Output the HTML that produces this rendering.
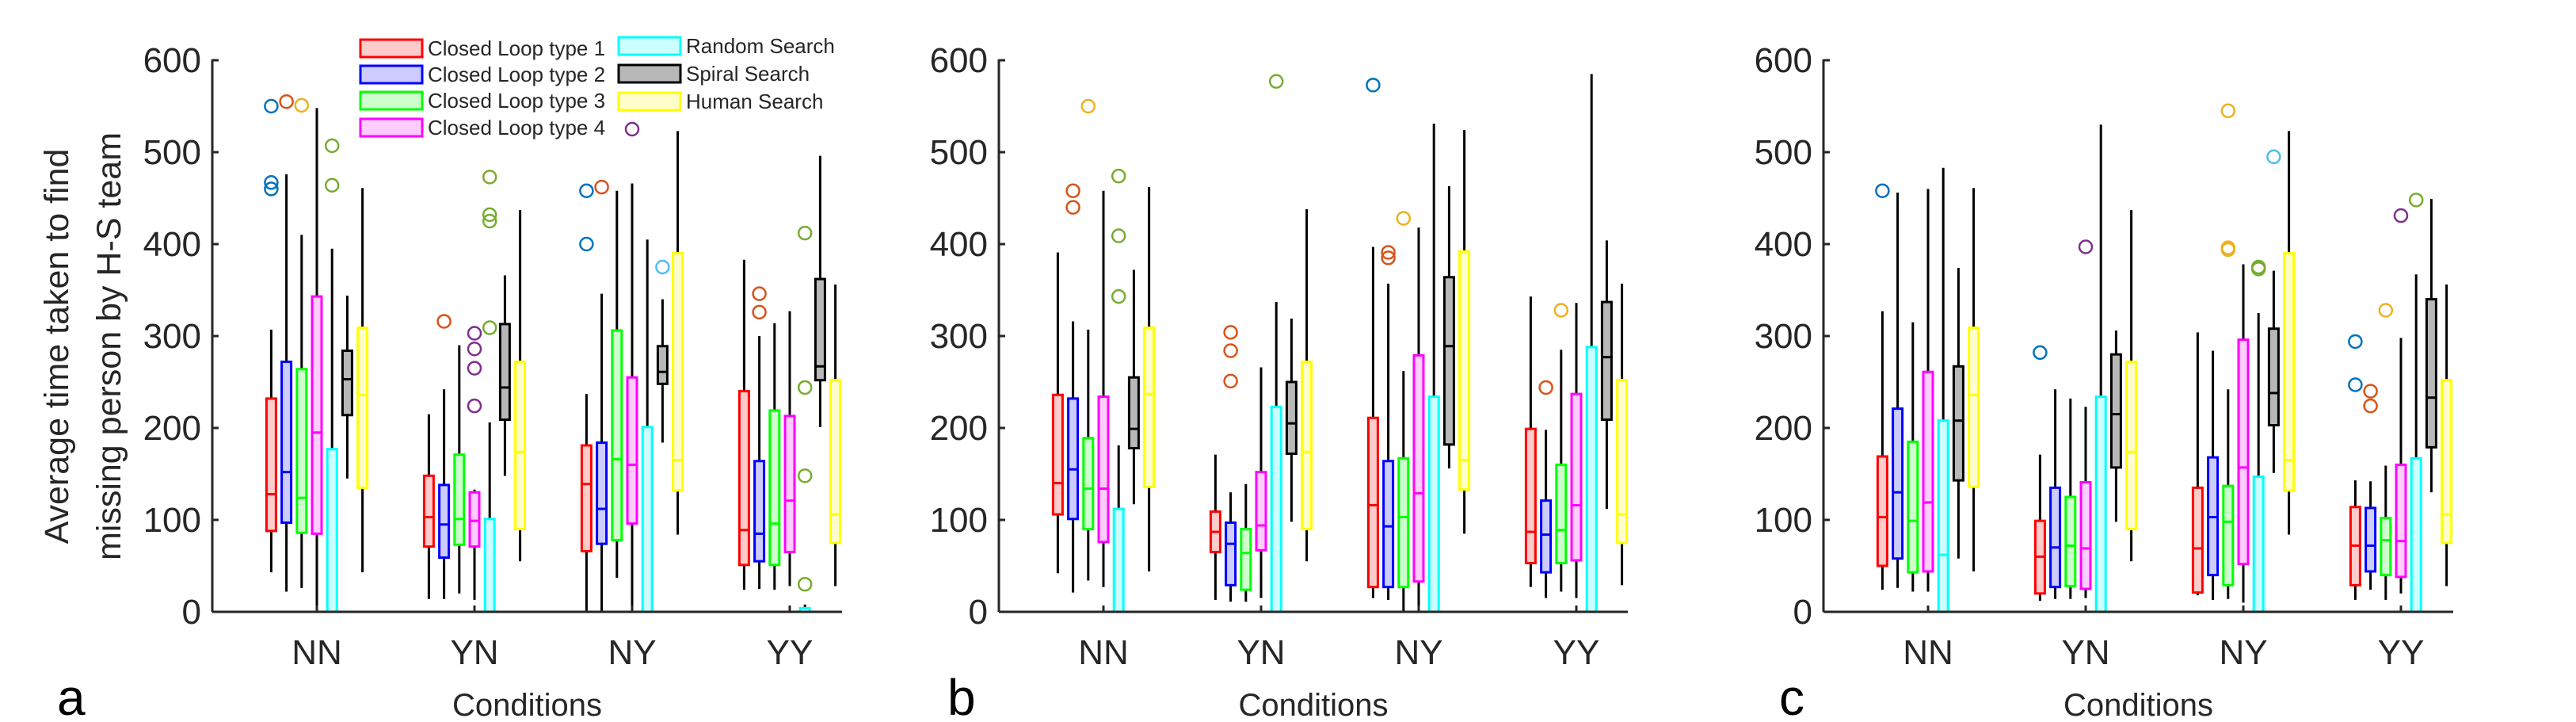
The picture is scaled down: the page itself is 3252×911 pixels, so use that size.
<!DOCTYPE html>
<html><head><meta charset="utf-8"><style>
html,body{margin:0;padding:0;background:#fff;}
svg{display:block;font-family:"Liberation Sans",Arial,sans-serif;}
</style></head><body>
<svg id="chart" width="3252" height="911" viewBox="0 0 3252 911" xmlns="http://www.w3.org/2000/svg">
<rect x="0" y="0" width="3252" height="911" fill="#fff"/>
<g id="root"></g>
</svg>
<script>
const categories = ["NN","YN","NY","YY"];
const seriesNames = ["Closed Loop type 1","Closed Loop type 2","Closed Loop type 3","Closed Loop type 4","Random Search","Spiral Search","Human Search"];
const yTicks = [0,100,200,300,400,500,600];
// Panel a: [group][series]
const aLow = [[43,22,26,0,0,145,43],[14,14,20,13,0,148,55],[0,0,37,0,0,184,84],[24,25,24,28,0,201,28]];
const aQ1  = [[88,97,86,85,0,214,135],[71,59,73,71,0,209,90],[66,74,78,96,0,248,132],[51,55,51,65,0,252,75]];
const aMed = [[128,152,124,195,0,253,236],[103,95,101,99,0,244,174],[139,112,166,160,0,261,165],[89,85,96,121,0,267,106]];
const aQ3  = [[232,272,264,343,177,284,309],[148,138,171,130,101,313,272],[181,184,306,255,201,289,390],[240,164,219,213,4,362,252]];
const aHigh= [[307,476,410,548,395,344,461],[215,242,290,133,206,366,437],[237,346,458,466,405,340,523],[383,300,314,327,8,496,356]];
const aOut = [[0,0,550],[0,0,467],[0,0,460],[0,1,555],[0,2,551],[0,4,507],[0,4,464],
  [1,1,316],[1,3,303],[1,3,286],[1,3,265],[1,3,224],[1,4,473],[1,4,432],[1,4,425],[1,4,309],
  [2,0,458],[2,0,400],[2,1,462],[2,3,525],[2,5,375],
  [3,1,346],[3,1,326],[3,4,412],[3,4,244],[3,4,148],[3,4,30]];
// Panel b
const bLow = [[42,21,34,27,0,117,44],[13,11,11,15,0,98,55],[15,13,0,0,0,156,85],[27,15,22,15,0,112,29]];
const bQ1  = [[106,101,90,76,0,178,136],[65,29,24,67,0,172,90],[27,27,27,33,0,182,133],[53,43,53,56,0,209,75]];
const bMed = [[140,155,134,134,0,199,237],[87,74,64,94,0,205,174],[116,93,103,129,0,289,165],[87,84,89,116,0,277,106]];
const bQ3  = [[236,232,189,234,112,255,309],[109,97,90,152,223,250,272],[211,164,167,279,234,364,392],[199,121,160,237,288,337,252]];
const bHigh= [[391,316,307,458,181,372,462],[171,130,139,266,337,319,438],[397,357,262,418,531,463,524],[343,198,285,336,585,404,357]];
const bOut = [[0,1,458],[0,1,440],[0,2,550],[0,4,474],[0,4,409],[0,4,343],
  [1,1,304],[1,1,284],[1,1,251],[1,4,577],
  [2,0,573],[2,1,391],[2,1,385],[2,2,428],
  [3,1,244],[3,2,328]];
// Panel c
const cLow = [[24,26,22,22,0,58,44],[12,14,14,15,0,98,55],[18,13,14,10,0,151,84],[13,24,13,20,0,130,28]];
const cQ1  = [[50,58,43,44,0,143,136],[20,27,28,25,0,157,90],[21,40,29,52,0,203,132],[29,44,40,38,0,179,75]];
const cMed = [[103,130,99,119,62,208,236],[60,70,72,69,0,215,174],[69,103,98,157,0,238,165],[72,72,78,77,0,233,106]];
const cQ3  = [[169,221,185,261,208,267,309],[99,135,125,141,234,280,272],[135,168,137,296,147,308,390],[114,113,102,160,167,340,252]];
const cHigh= [[327,456,315,460,483,374,461],[171,242,232,223,530,306,437],[304,284,242,378,325,371,523],[143,142,159,298,367,449,356]];
const cOut = [[0,0,458],[1,0,282],[1,3,397],
  [2,2,545],[2,2,396],[2,2,394],[2,4,375],[2,4,373],[2,5,495],
  [3,0,294],[3,0,247],[3,1,240],[3,1,224],[3,2,328],[3,3,431],[3,4,448]];

const strokeCols = ["#ff0000","#0000ff","#00ff00","#ff00ff","#00ffff","#000000","#ffff00"];
const fillCols = ["#ffcccc","#ccccff","#ccffcc","#ffccff","#ccffff","#b8b8b8","#ffffcc"];
const outCols = ["#0072BD","#D95319","#EDB120","#7E2F8E","#77AC30","#4DBEEE","#A2142F"];

const NS="http://www.w3.org/2000/svg";
const root=document.getElementById('root');
function mk(tag,attrs,parent){const e=document.createElementNS(NS,tag);for(const k in attrs)e.setAttribute(k,attrs[k]);(parent||root).appendChild(e);return e;}

const Y0=772, Y600=76;
function yScale(v){return Y0-(v/600)*(Y0-Y600);}

const panels=[
 {id:'a',x0:268,x1:1063,low:aLow,q1:aQ1,med:aMed,q3:aQ3,high:aHigh,out:aOut,letterX:72},
 {id:'b',x0:1261,x1:2055,low:bLow,q1:bQ1,med:bMed,q3:bQ3,high:bHigh,out:bOut,letterX:1196},
 {id:'c',x0:2302,x1:3097,low:cLow,q1:cQ1,med:cMed,q3:cQ3,high:cHigh,out:cOut,letterX:2246}
];
const groupStep=199, groupOff=132, boxStep=19.2, boxHalf=6;
function xScale(p,g,s){return p.x0+groupOff+g*groupStep+(s-3)*boxStep;}

panels.forEach(p=>{
  const pg=mk('g',{});
  
  
  // boxes
  for(let g=0;g<4;g++){
    for(let s=0;s<7;s++){
      const cx=xScale(p,g,s);
      const bg=mk('g',{},pg);
      
      
      const lo=yScale(p.low[g][s]),q1=yScale(p.q1[g][s]),md=yScale(p.med[g][s]),q3=yScale(p.q3[g][s]),hi=yScale(p.high[g][s]);
      if(hi<q3-0.5) mk('line',{x1:cx,x2:cx,y1:hi,y2:q3,stroke:'#000','stroke-width':3},bg);
      if(lo>q1+0.5) mk('line',{x1:cx,x2:cx,y1:q1,y2:lo,stroke:'#000','stroke-width':3},bg);
      mk('rect',{x:cx-boxHalf,y:q3,width:boxHalf*2,height:Math.max(q1-q3,0.5),fill:fillCols[s],stroke:strokeCols[s],'stroke-width':3},bg);
      mk('line',{x1:cx-boxHalf,x2:cx+boxHalf,y1:md,y2:md,stroke:strokeCols[s],'stroke-width':3},bg);
    }
  }
  p.out.forEach(o=>{
    const c=mk('circle',{cx:xScale(p,o[0],o[1]),cy:yScale(o[2]),r:8,fill:'none',stroke:outCols[o[1]],'stroke-width':2.5},pg);
    
    
  });
  // axes
  const ya=mk('line',{x1:p.x0,x2:p.x0,y1:Y600-1,y2:Y0,stroke:'#262626','stroke-width':3},pg);
  
  
  const xa=mk('line',{x1:p.x0,x2:p.x1,y1:Y0,y2:Y0,stroke:'#262626','stroke-width':3},pg);
  
  
  yTicks.forEach(t=>{
    const y=yScale(t);
    mk('line',{x1:p.x0,x2:p.x0+8,y1:y,y2:y,stroke:'#262626','stroke-width':3},pg);
    const tx=mk('text',{x:p.x0-14,y:y+15,'text-anchor':'end','font-size':44,fill:'#262626'},pg);
    tx.textContent=t;
    
    
  });
  categories.forEach((c,g)=>{
    const x=p.x0+groupOff+g*groupStep;
    mk('line',{x1:x,x2:x,y1:Y0,y2:Y0-8,stroke:'#262626','stroke-width':3},pg);
    const tx=mk('text',{x:x,y:838,'text-anchor':'middle','font-size':44,fill:'#262626'},pg);
    tx.textContent=c;
    
    
  });
  const xt=mk('text',{x:(p.x0+p.x1)/2,y:903,'text-anchor':'middle','font-size':40,fill:'#262626'},pg);
  xt.textContent='Conditions';
  
  
  const lt=mk('text',{x:p.letterX,y:902,'font-size':64,fill:'#000'},pg);
  lt.textContent=p.id;
  
  
});

// y-axis title (panel a)
const yt=mk('g',{transform:'translate(0,437) rotate(-90)'});


const yt1=mk('text',{x:0,y:86,'text-anchor':'middle','font-size':43,fill:'#262626'},yt);
yt1.textContent='Average time taken to find';
const yt2=mk('text',{x:0,y:152,'text-anchor':'middle','font-size':43,fill:'#262626'},yt);
yt2.textContent='missing person by H-S team';

// legend
const leg=mk('g',{});


const legPos=[[454,61],[454,94],[454,127],[454,161],[780,58],[780,93],[780,128]];
seriesNames.forEach((n,i)=>{
  const e=mk('g',{},leg);
  
  
  const [lx,ly]=legPos[i];
  mk('rect',{x:lx+1,y:ly-11,width:78,height:22,fill:fillCols[i],stroke:strokeCols[i],'stroke-width':3},e);
  const t=mk('text',{x:lx+86,y:ly+9,'font-size':26,fill:'#262626'},e);
  t.textContent=n;
});
</script>
</body></html>
